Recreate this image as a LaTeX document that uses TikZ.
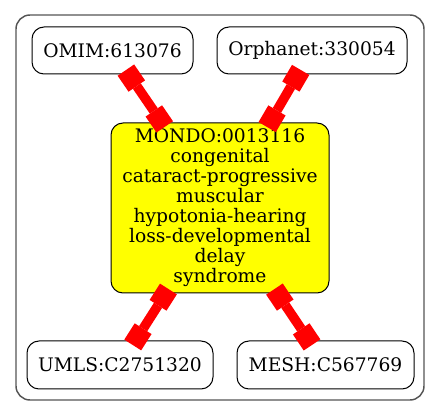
\documentclass[tikz,border=0pt]{standalone}
\usepackage{fontspec}
\setmainfont{DejaVu Serif}
\usetikzlibrary{arrows.meta}
\definecolor{ylw}{rgb}{1,1,0}
\definecolor{frame}{rgb}{0.33,0.33,0.33}
\begin{document}
\begin{tikzpicture}[x=0.75pt,y=-0.75pt,
  box/.style={draw=black,line width=0.75pt,rounded corners=9pt,inner sep=0pt,
    font=\fontsize{14}{15}\selectfont,align=center},
  edge/.style={draw=red,line width=7.2pt,{Square[length=14.5pt,width=15pt,line width=0pt]}-{Square[length=14.5pt,width=15pt,line width=0pt]},
    shorten <=-4pt, shorten >=-4pt}]
\useasboundingbox (0,0) rectangle (440,416);
\draw[draw=frame,line width=1.1pt,rounded corners=10.5pt] (16,15) rectangle (424,400);
\node[box,minimum width=120.75pt,minimum height=35.25pt] (omim) at (112.5,50.5) {OMIM:613076};
\node[box,minimum width=142.5pt,minimum height=35.25pt] (orpha) at (312,50.5) {Orphanet:330054};
\node[box,fill=ylw,minimum width=163.5pt,minimum height=127.5pt] (mondo) at (220,208)
  {MONDO:0013116\\congenital\\cataract-progressive\\muscular\\hypotonia-hearing\\loss-developmental\\delay\\syndrome};
\node[box,minimum width=139.5pt,minimum height=36pt] (umls) at (120,365) {UMLS:C2751320};
\node[box,minimum width=132.75pt,minimum height=36pt] (mesh) at (325.5,365) {MESH:C567769};
\draw[edge] (omim) -- (mondo);
\draw[edge] (orpha) -- (mondo);
\draw[edge] (mondo) -- (umls);
\draw[edge] (mondo) -- (mesh);
\end{tikzpicture}
\end{document}
